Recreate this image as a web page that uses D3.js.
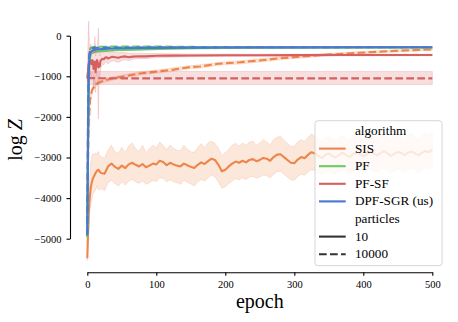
<!DOCTYPE html>
<html>
<head>
<meta charset="utf-8">
<script src="https://cdn.jsdelivr.net/npm/d3@7"></script>
<style>
    body { margin: 0; background: #fff; }
    text { font-family: "Liberation Serif", "Times New Roman", serif; fill: #000; }
</style>
</head>
<body>
<div id="chart"></div>
<script>
// Данные
let algorithms = ['SIS', 'PF', 'PF-SF', 'DPF-SGR (us)'];
let algorithmColors = ['#ee854a', '#6acc64', '#d65f5f', '#4878d0'];
let particles = ['10', '10000'];
let xTicks = [0, 100, 200, 300, 400, 500];
let yTicks = [0, -1000, -2000, -3000, -4000, -5000];

// SIS, 10 частиц
let sisEpochs = [0, 1, 2, 3, 4, 5, 6, 7, 8, 10, 12, 14, 16, 18,
    20, 25, 30, 35, 40, 45, 50, 55, 60, 65, 70, 75, 80, 85, 90, 95, 100, 105, 110, 115,
    120, 125, 130, 135, 140, 145, 150, 155, 160, 165, 170, 175, 180, 185, 190, 195, 200, 205, 210, 215,
    220, 225, 230, 235, 240, 245, 250, 255, 260, 265, 270, 275, 280, 285, 290, 295, 300, 305, 310, 315,
    320, 325, 330, 335, 340, 345, 350, 355, 360, 365, 370, 375, 380, 385, 390, 395, 400, 405, 410, 415,
    420, 425, 430, 435, 440, 445, 450, 455, 460, 465, 470, 475, 480, 485, 490, 495, 500];
let sis10 = [-5480, -4900, -4400, -4100, -3900, -3750, -3650, -3580, -3520, -3450, -3380, -3330, -3300, -3350,
    -3380, -3400, -3220, -3150, -3230, -3280, -3200, -3260, -3170, -3130,
    -3180, -3220, -3160, -3240, -3200, -3150, -3170, -3080, -3110, -3190,
    -3130, -3170, -3200, -3220, -3150, -3190, -3230, -3260, -3180, -3120,
    -3160, -3090, -3030, -3060, -3180, -3340, -3300, -3220, -3150, -3100,
    -3130, -3080, -3120, -3060, -3040, -3090, -3060, -3010, -3030, -3080,
    -2990, -2930, -2920, -2990, -3060, -3130, -3140, -3050, -2990, -3020,
    -2930, -2870, -2900, -2960, -3010, -2940, -2900, -2960, -3000, -2930,
    -2880, -2940, -2990, -2920, -2870, -2910, -2970, -2920, -2860, -2900,
    -2950, -2890, -2840, -2900, -2960, -2910, -2860, -2890, -2940, -2880,
    -2850, -2900, -2950, -2880, -2840, -2870, -2800];
let sis10Hi = [-5420, -4700, -4050, -3650, -3350, -3150, -3000, -2940, -2900, -2950, -2880, -2920, -2850, -2960,
    -2980, -3020, -2820, -2700, -2860, -2900, -2750, -2880, -2720, -2640,
    -2780, -2850, -2700, -2880, -2790, -2700, -2760, -2620, -2700, -2810,
    -2690, -2780, -2820, -2830, -2700, -2800, -2860, -2870, -2760, -2660,
    -2760, -2640, -2600, -2650, -2780, -2950, -2880, -2800, -2700, -2650,
    -2720, -2640, -2700, -2620, -2600, -2700, -2640, -2560, -2620, -2690,
    -2560, -2500, -2480, -2580, -2650, -2730, -2720, -2620, -2560, -2610,
    -2500, -2420, -2480, -2540, -2600, -2510, -2470, -2540, -2590, -2500,
    -2460, -2530, -2580, -2490, -2440, -2490, -2560, -2500, -2430, -2480,
    -2540, -2460, -2410, -2480, -2550, -2490, -2430, -2470, -2530, -2450,
    -2420, -2480, -2540, -2450, -2400, -2440, -2380];
let sis10Lo = [-5540, -5100, -4750, -4500, -4300, -4150, -4050, -3980, -3900, -3850, -3800, -3700, -3780, -3800,
    -3760, -3820, -3620, -3560, -3640, -3700, -3600, -3680, -3580, -3540,
    -3600, -3640, -3580, -3660, -3620, -3560, -3590, -3500, -3520, -3600,
    -3550, -3600, -3620, -3660, -3560, -3610, -3650, -3700, -3600, -3540,
    -3580, -3500, -3440, -3480, -3600, -3760, -3720, -3640, -3580, -3520,
    -3550, -3500, -3540, -3480, -3460, -3510, -3480, -3430, -3450, -3500,
    -3410, -3350, -3340, -3410, -3480, -3550, -3560, -3470, -3410, -3440,
    -3350, -3300, -3320, -3390, -3430, -3360, -3320, -3380, -3420, -3350,
    -3300, -3360, -3410, -3340, -3290, -3330, -3390, -3340, -3280, -3320,
    -3370, -3310, -3260, -3320, -3380, -3330, -3280, -3310, -3360, -3300,
    -3270, -3320, -3370, -3300, -3260, -3290, -3220];

// SIS, 10000 частиц
let sis10kEpochs = [0, 1, 2, 3, 4, 5, 7, 10, 12, 15, 20, 30, 40, 50, 60, 76, 100, 125, 150, 163, 190, 221, 250, 279, 310, 337, 365, 395, 425, 453, 480, 500];
let sis10k = [-4950, -3200, -2300, -1900, -1600, -1480, -1340, -1250, -1210, -1170, -1130, -1080, -1040, -1010, -980, -930, -885, -835, -770, -760, -690, -655, -610, -555, -515, -478, -450, -420, -393, -368, -350, -335];
let sis10kHi = [-4800, -2900, -2100, -1750, -1500, -1400, -1280, -1190, -1160, -1120, -1080, -1035, -1000, -970, -940, -890, -845, -790, -735, -715, -655, -615, -570, -520, -480, -445, -420, -392, -366, -342, -326, -312];
let sis10kLo = [-5100, -3500, -2500, -2050, -1700, -1560, -1400, -1310, -1260, -1220, -1180, -1125, -1080, -1050, -1020, -970, -925, -875, -810, -800, -730, -695, -650, -595, -550, -512, -482, -450, -420, -395, -376, -360];

// PF
let pf10Epochs = [0, 1, 2, 3, 4, 5, 7, 10, 20, 40, 80, 120, 160, 250, 500];
let pf10 = [-4960, -3000, -1300, -700, -520, -460, -420, -400, -380, -360, -340, -320, -305, -295, -288];
let pf10kEpochs = [0, 1, 2, 3, 4, 5, 10, 50, 100, 150, 200, 500];
let pf10k = [-4960, -2200, -900, -450, -330, -300, -275, -265, -268, -275, -282, -285];

// PF-SF, 10 частиц
let pfsfEpochs = [0, 1, 2, 3, 4, 5, 6, 7, 8, 9, 10, 11, 12, 13, 14, 15, 16, 17, 18, 19, 20,
    22, 24, 26, 28, 30, 33, 36, 40, 45, 50, 55, 60, 66, 75, 85,
    100, 120, 150, 200, 250, 300, 350, 400, 450, 500];
let pfsf10 = [-1050, -900, -700, -650, -620, -640, -700, -600, -620, -820, -700, -640, -900, -680, -600, -650, -780, -700, -760, -620, -600,
    -570, -580, -540, -530, -560, -540, -520, -530, -545, -520, -510, -530, -515, -505, -510,
    -495, -490, -488, -482, -480, -478, -477, -476, -475, -474];
let pfsf10Hi = [-850, -200, 360, -300, -350, -200, -400, -300, -400, -350, -450, -20, -500, -400, -350, -200, 190, -400, -500, -400, -420,
    -400, -410, -390, -380, -400, -400, -390, -410, -420, -410, -420, -430, -435, -430, -440,
    -440, -445, -450, -452, -454, -455, -455, -455, -455, -455];
let pfsf10Lo = [-1250, -1300, -1200, -1100, -900, -1000, -1050, -900, -950, -1300, -1000, -1250, -1400, -1000, -900, -1100, -2050, -1000, -1050, -850, -780,
    -700, -720, -650, -640, -700, -650, -620, -630, -660, -610, -590, -620, -580, -565, -570,
    -540, -530, -520, -510, -505, -502, -500, -498, -496, -494];

// PF-SF, 10000 частиц
let pfsf10kEpochs = [0, 50, 100, 150, 200, 250, 300, 350, 400, 450, 500];
let pfsf10k = [-1045, -1050, -1050, -1050, -1050, -1050, -1050, -1050, -1050, -1050, -1050];
let pfsf10kHi = [-880, -880, -880, -880, -880, -880, -880, -880, -880, -880, -880];
let pfsf10kLo = [-1200, -1200, -1200, -1200, -1200, -1200, -1200, -1200, -1200, -1200, -1200];

// DPF-SGR (us)
let dpf10Epochs = [0, 1, 2, 3, 4, 5, 6, 8, 10, 15, 20, 30, 50, 100, 200, 300, 400, 500];
let dpf10 = [-4920, -2500, -1000, -560, -440, -400, -380, -360, -350, -340, -330, -320, -310, -300, -292, -288, -286, -285];
let dpf10kEpochs = [0, 1, 2, 3, 4, 5, 6, 8, 10, 20, 50, 100, 200, 300, 400, 500];
let dpf10k = [-4900, -2000, -800, -450, -360, -330, -315, -305, -300, -295, -290, -288, -286, -285, -284, -283];


let width = 458, height = 322;
let dashPattern = '7.7,3.3';

let svg = d3.select('#chart').append('svg').attr('width', width).attr('height', height);

let x = d3.scaleLinear().domain([0, 500]).range([87.3, 432.3]);
let y = d3.scaleLinear().domain([-5000, 0]).range([238.7, 35.7]);

let plot = svg.append('g');

// Рисую линию и полосу разброса
function drawSeries(epochs, mean, lo, hi, color, dashed) {
    let points = epochs.map((e, i) => ({ e: e, m: mean[i], lo: lo ? lo[i] : null, hi: hi ? hi[i] : null }));

    if (lo) {
        plot.append('path')
            .datum(points)
            .attr('fill', color)
            .attr('fill-opacity', 0.2)
            .attr('stroke', color)
            .attr('stroke-opacity', 0.22)
            .attr('stroke-width', 0.9)
            .attr('d', d3.area().x(d => x(d.e)).y0(d => y(d.lo)).y1(d => y(d.hi)));
    }

    plot.append('path')
        .datum(points)
        .attr('fill', 'none')
        .attr('stroke', color)
        .attr('stroke-width', 2.1)
        .attr('stroke-linejoin', 'round')
        .attr('stroke-dasharray', dashed ? dashPattern : null)
        .attr('d', d3.line().x(d => x(d.e)).y(d => y(d.m)));
}

drawSeries(sisEpochs, sis10, sis10Lo, sis10Hi, algorithmColors[0], false);
drawSeries(sis10kEpochs, sis10k, sis10kLo, sis10kHi, algorithmColors[0], true);
drawSeries(pf10Epochs, pf10, null, null, algorithmColors[1], false);
drawSeries(pf10kEpochs, pf10k, null, null, algorithmColors[1], true);
drawSeries(pfsfEpochs, pfsf10, pfsf10Lo, pfsf10Hi, algorithmColors[2], false);
drawSeries(pfsf10kEpochs, pfsf10k, pfsf10kLo, pfsf10kHi, algorithmColors[2], true);
drawSeries(dpf10Epochs, dpf10, null, null, algorithmColors[3], false);
drawSeries(dpf10kEpochs, dpf10k, null, null, algorithmColors[3], true);


// Оси со смещением, как у seaborn despine
svg.append('g')
    .attr('transform', 'translate(70,0)')
    .call(d3.axisLeft(y).tickValues(yTicks).tickFormat(d3.format('d'))
        .tickSize(3.5).tickSizeOuter(0).tickPadding(5));

svg.append('g')
    .attr('transform', 'translate(0,272.3)')
    .call(d3.axisBottom(x).tickValues(xTicks).tickFormat(d3.format('d'))
        .tickSize(3.5).tickSizeOuter(0).tickPadding(5));

svg.selectAll('.domain').attr('stroke', '#000').attr('stroke-width', 1.1);
svg.selectAll('.tick line').attr('stroke', '#000').attr('stroke-width', 1.1);
svg.selectAll('.tick text')
    .attr('font-family', '"Liberation Serif", serif')
    .style('font-family', '"Liberation Serif", serif')
    .style('font-size', '10.5px')
    .attr('fill', '#000');

// Подписи осей
svg.append('text')
    .attr('x', 259.8)
    .attr('y', 308)
    .attr('text-anchor', 'middle')
    .style('font-size', '20px')
    .text('epoch');

let yLabel = svg.append('text')
    .attr('transform', 'translate(21.7,140) rotate(-90)')
    .attr('text-anchor', 'middle')
    .style('font-size', '20px');
yLabel.append('tspan').text('log ');
yLabel.append('tspan').style('font-style', 'italic').text('Z');


// Легенда
let legend = svg.append('g');

legend.append('rect')
    .attr('x', 315)
    .attr('y', 120.7)
    .attr('width', 127)
    .attr('height', 145)
    .attr('rx', 3)
    .attr('fill', '#fff')
    .attr('fill-opacity', 0.8)
    .attr('stroke', '#d6d6d6')
    .attr('stroke-width', 1);

let legendRows = [{ label: 'algorithm' }]
    .concat(algorithms.map((a, i) => ({ label: a, color: algorithmColors[i], dashed: false })))
    .concat([{ label: 'particles' }])
    .concat(particles.map((p, i) => ({ label: p, color: '#333', dashed: i === 1 })));

let rows = legend.selectAll('.legend-row')
    .data(legendRows)
    .enter()
    .append('g')
    .attr('class', 'legend-row')
    .attr('transform', (d, i) => `translate(0,${131 + i * 17.6})`);

rows.filter(d => d.color)
    .append('line')
    .attr('x1', 319)
    .attr('x2', 345.7)
    .attr('y1', 0)
    .attr('y2', 0)
    .attr('stroke', d => d.color)
    .attr('stroke-width', 2.1)
    .attr('stroke-dasharray', d => d.dashed ? dashPattern : null);

rows.append('text')
    .attr('x', 355)
    .attr('y', 4)
    .style('font-size', '13.2px')
    .text(d => d.label);
</script>
</body>
</html>
